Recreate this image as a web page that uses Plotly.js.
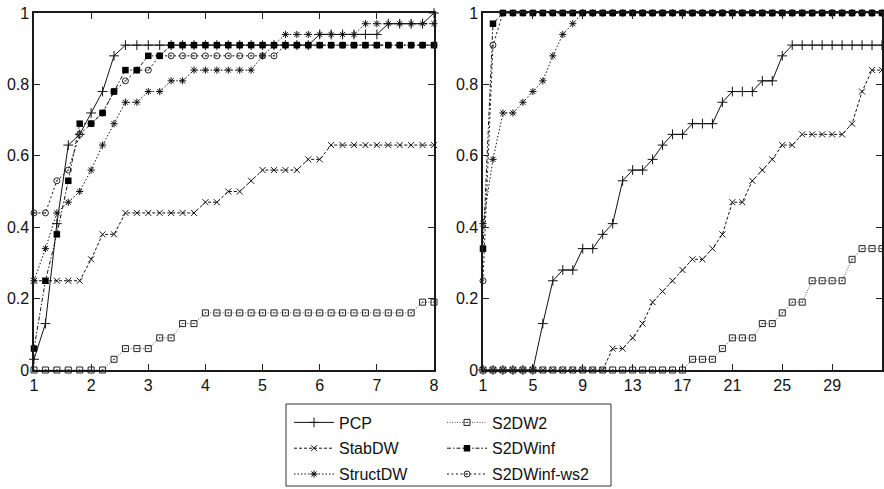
<!DOCTYPE html>
<html>
<head>
<meta charset="utf-8">
<script src="https://cdn.plot.ly/plotly-3.0.1.min.js"></script>
<style>
  html, body { margin: 0; padding: 0; background: #fff; }
  #chart { width: 884px; height: 489px; }
</style>
</head>
<body>
<div id="chart"></div>
<script>
// ---------- data: left panel (ratio 1..8) ----------
const xLeft = [1.0, 1.2, 1.4, 1.6, 1.8, 2.0, 2.2, 2.4, 2.6, 2.8, 3.0, 3.2, 3.4, 3.6, 3.8, 4.0, 4.2, 4.4,
               4.6, 4.8, 5.0, 5.2, 5.4, 5.6, 5.8, 6.0, 6.2, 6.4, 6.6, 6.8, 7.0, 7.2, 7.4, 7.6, 7.8, 8.0];

const pcpLeft = [0.03, 0.13, 0.41, 0.63, 0.66, 0.72, 0.78, 0.88, 0.91, 0.91, 0.91, 0.91, 0.91, 0.91, 0.91, 0.91, 0.91, 0.91,
                 0.91, 0.91, 0.91, 0.91, 0.91, 0.91, 0.91, 0.94, 0.94, 0.94, 0.94, 0.94, 0.94, 0.97, 0.97, 0.97, 0.97, 1.00];
const stabLeft = [0.25, 0.25, 0.25, 0.25, 0.25, 0.31, 0.38, 0.38, 0.44, 0.44, 0.44, 0.44, 0.44, 0.44, 0.44, 0.47, 0.47, 0.50,
                  0.50, 0.53, 0.56, 0.56, 0.56, 0.56, 0.59, 0.59, 0.63, 0.63, 0.63, 0.63, 0.63, 0.63, 0.63, 0.63, 0.63, 0.63];
const structLeft = [0.25, 0.34, 0.44, 0.47, 0.50, 0.56, 0.63, 0.69, 0.75, 0.75, 0.78, 0.78, 0.81, 0.81, 0.84, 0.84, 0.84, 0.84,
                    0.84, 0.84, 0.88, 0.91, 0.94, 0.94, 0.94, 0.94, 0.94, 0.94, 0.94, 0.97, 0.97, 0.97, 0.97, 0.97, 0.97, 0.97];
const s2dw2Left = [0, 0, 0, 0, 0, 0, 0, 0.03, 0.06, 0.06, 0.06, 0.09, 0.09, 0.13, 0.13, 0.16, 0.16, 0.16,
                   0.16, 0.16, 0.16, 0.16, 0.16, 0.16, 0.16, 0.16, 0.16, 0.16, 0.16, 0.16, 0.16, 0.16, 0.16, 0.16, 0.19, 0.19];
const s2dwinfLeft = [0.06, 0.25, 0.38, 0.53, 0.69, 0.69, 0.72, 0.78, 0.84, 0.84, 0.88, 0.88, 0.91, 0.91, 0.91, 0.91, 0.91, 0.91,
                     0.91, 0.91, 0.91, 0.91, 0.91, 0.91, 0.91, 0.91, 0.91, 0.91, 0.91, 0.91, 0.91, 0.91, 0.91, 0.91, 0.91, 0.91];
const ws2Left = [0.44, 0.44, 0.53, 0.56, 0.66, 0.69, 0.72, 0.78, 0.81, 0.84, 0.84, 0.88, 0.88, 0.88, 0.88, 0.88, 0.88, 0.88,
                 0.88, 0.88, 0.88, 0.88, 0.91, 0.91, 0.91, 0.91, 0.91, 0.91, 0.91, 0.91, 0.91, 0.91, 0.91, 0.91, 0.91, 0.91];

// ---------- data: right panel (ratio 1..33) ----------
const xRight = [1, 1.8, 2.6, 3.4, 4.2, 5, 5.8, 6.6, 7.4, 8.2, 9, 9.8, 10.6, 11.4, 12.2, 13, 13.8, 14.6, 15.4, 16.2, 17,
                17.8, 18.6, 19.4, 20.2, 21, 21.8, 22.6, 23.4, 24.2, 25, 25.8, 26.6, 27.4, 28.2, 29, 29.8, 30.6, 31.4, 32.2, 33];

const pcpRight = [0, 0, 0, 0, 0, 0, 0.13, 0.25, 0.28, 0.28, 0.34, 0.34, 0.38, 0.41, 0.53, 0.56, 0.56, 0.59, 0.63, 0.66, 0.66,
                  0.69, 0.69, 0.69, 0.75, 0.78, 0.78, 0.78, 0.81, 0.81, 0.88, 0.91, 0.91, 0.91, 0.91, 0.91, 0.91, 0.91, 0.91, 0.91, 0.91];
const stabRight = [0, 0, 0, 0, 0, 0, 0, 0, 0, 0, 0, 0, 0, 0.06, 0.06, 0.09, 0.13, 0.19, 0.22, 0.25, 0.28,
                   0.31, 0.31, 0.34, 0.38, 0.47, 0.47, 0.53, 0.56, 0.59, 0.63, 0.63, 0.66, 0.66, 0.66, 0.66, 0.66, 0.69, 0.78, 0.84, 0.84];
const structRight = [0.41, 0.59, 0.72, 0.72, 0.75, 0.78, 0.81, 0.88, 0.94, 0.97, 1, 1, 1, 1, 1, 1, 1, 1, 1, 1, 1,
                     1, 1, 1, 1, 1, 1, 1, 1, 1, 1, 1, 1, 1, 1, 1, 1, 1, 1, 1, 1];
const s2dw2Right = [0, 0, 0, 0, 0, 0, 0, 0, 0, 0, 0, 0, 0, 0, 0, 0, 0, 0, 0, 0, 0,
                    0.03, 0.03, 0.03, 0.06, 0.09, 0.09, 0.09, 0.13, 0.13, 0.16, 0.19, 0.19, 0.25, 0.25, 0.25, 0.25, 0.31, 0.34, 0.34, 0.34];
const s2dwinfRight = [0.34, 0.97, 1, 1, 1, 1, 1, 1, 1, 1, 1, 1, 1, 1, 1, 1, 1, 1, 1, 1, 1,
                      1, 1, 1, 1, 1, 1, 1, 1, 1, 1, 1, 1, 1, 1, 1, 1, 1, 1, 1, 1];
const ws2Right = [0.25, 0.91, 1, 1, 1, 1, 1, 1, 1, 1, 1, 1, 1, 1, 1, 1, 1, 1, 1, 1, 1,
                  1, 1, 1, 1, 1, 1, 1, 1, 1, 1, 1, 1, 1, 1, 1, 1, 1, 1, 1, 1];

const seriesNames = ["PCP", "StabDW", "StructDW", "S2DW2", "S2DWinf-ws2", "S2DWinf"];
const xTicksLeft = [1, 2, 3, 4, 5, 6, 7, 8];
const xTicksRight = [1, 5, 9, 13, 17, 21, 25, 29];
const yTicks = [0, 0.2, 0.4, 0.6, 0.8, 1];

// ---------- styles ----------
const styles = {
  "PCP":         {line: {color: "#111", width: 1, dash: "solid"},        marker: {symbol: "cross-thin-open", size: 7, color: "#111", line: {width: 1, color: "#111"}}, legend: "legend",  rank: 1},
  "StabDW":      {line: {color: "#111", width: 1, dash: "3px,2px"},      marker: {symbol: "x-thin-open", size: 6, color: "#111", line: {width: 1, color: "#111"}},     legend: "legend",  rank: 2},
  "StructDW":    {line: {color: "#111", width: 1, dash: "1.5px,2px"},    marker: {symbol: "asterisk-open", size: 6, color: "#111", line: {width: 1, color: "#111"}},   legend: "legend",  rank: 3},
  "S2DW2":       {line: {color: "#555", width: 1, dash: "1px,1.5px"},    marker: {symbol: "square-open-dot", size: 6, color: "#222", line: {width: 1, color: "#222"}}, legend: "legend2", rank: 4},
  "S2DWinf":     {line: {color: "#111", width: 1, dash: "4px,2px,1.5px,2px"}, marker: {symbol: "square", size: 6.5, color: "#000", line: {width: 0}},                 legend: "legend2", rank: 5},
  "S2DWinf-ws2": {line: {color: "#111", width: 1, dash: "2px,2.5px"},    marker: {symbol: "circle-open-dot", size: 6, color: "#222", line: {width: 1, color: "#222"}}, legend: "legend2", rank: 6}
};

const leftData = {"PCP": pcpLeft, "StabDW": stabLeft, "StructDW": structLeft, "S2DW2": s2dw2Left, "S2DWinf-ws2": ws2Left, "S2DWinf": s2dwinfLeft};
const rightData = {"PCP": pcpRight, "StabDW": stabRight, "StructDW": structRight, "S2DW2": s2dw2Right, "S2DWinf-ws2": ws2Right, "S2DWinf": s2dwinfRight};

const traces = [];
seriesNames.forEach(name => {
  const s = styles[name];
  traces.push({
    type: "scatter", mode: "lines+markers", name: name,
    x: xLeft, y: leftData[name], xaxis: "x", yaxis: "y",
    line: s.line, marker: s.marker, cliponaxis: false,
    legend: s.legend, legendrank: s.rank, legendgroup: name, showlegend: true
  });
  traces.push({
    type: "scatter", mode: "lines+markers", name: name,
    x: xRight, y: rightData[name], xaxis: "x2", yaxis: "y2",
    line: s.line, marker: s.marker, cliponaxis: false,
    legend: s.legend, legendrank: s.rank, legendgroup: name, showlegend: false
  });
});

const W = 884, H = 489;
const axisCommon = {
  showgrid: false, zeroline: false, showline: true, linecolor: "#1a1a1a", linewidth: 1.6,
  mirror: "ticks", ticks: "inside", ticklen: 6, tickwidth: 1, tickcolor: "#222",
  tickfont: {family: "Liberation Sans, Arial, Helvetica, sans-serif", size: 16, color: "#111"},
  automargin: false, fixedrange: true
};
const legendCommon = {
  orientation: "v", bgcolor: "rgba(0,0,0,0)", borderwidth: 0,
  font: {family: "Liberation Sans, Arial, Helvetica, sans-serif", size: 16, color: "#111"},
  itemwidth: 40, tracegroupgap: 2, xanchor: "left", yanchor: "top", traceorder: "grouped"
};

const layout = {
  width: W, height: H,
  margin: {l: 0, r: 0, t: 0, b: 0, autoexpand: false},
  paper_bgcolor: "#fff", plot_bgcolor: "#fff",
  showlegend: true,
  xaxis: Object.assign({}, axisCommon, {domain: [34 / W, 434 / W], range: [1, 8], tickvals: xTicksLeft, anchor: "y"}),
  yaxis: Object.assign({}, axisCommon, {domain: [1 - 370 / H, 1 - 13 / H], range: [0, 1], tickvals: yTicks, anchor: "x"}),
  xaxis2: Object.assign({}, axisCommon, {domain: [483 / W, 882 / W], range: [1, 33], tickvals: xTicksRight, anchor: "y2"}),
  yaxis2: Object.assign({}, axisCommon, {domain: [1 - 370 / H, 1 - 13 / H], range: [0, 1], tickvals: yTicks, anchor: "x2"}),
  legend: Object.assign({}, legendCommon, {x: 289 / W, y: 1 - 405.5 / H}),
  legend2: Object.assign({}, legendCommon, {x: 442 / W, y: 1 - 405.5 / H}),
  shapes: [{
    type: "rect", xref: "paper", yref: "paper",
    x0: 286 / W, x1: 611 / W, y0: 1 - 486 / H, y1: 1 - 404 / H,
    line: {color: "#333", width: 1}, fillcolor: "rgba(0,0,0,0)"
  }]
};

Plotly.newPlot("chart", traces, layout, {displayModeBar: false, staticPlot: true});
</script>
</body>
</html>
